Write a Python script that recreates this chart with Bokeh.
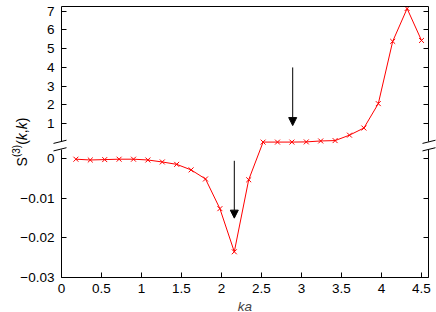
import math
from bokeh.plotting import figure
from bokeh.models import (LinearAxis, FixedTicker, Range1d, Arrow, NormalHead, ColumnDataSource)
from bokeh.core.properties import value
from bokeh.embed import file_html
from bokeh.resources import INLINE

# ---------------- data ----------------
ka = [0.18, 0.36, 0.54, 0.72, 0.90, 1.08, 1.26, 1.44, 1.62, 1.80, 1.98, 2.16, 2.34,
      2.52, 2.70, 2.88, 3.06, 3.24, 3.42, 3.60, 3.78, 3.96, 4.14, 4.32, 4.50]
s3 = [-0.0001, -0.0003, -0.0002, -0.0001, -0.0001, -0.0003, -0.0008, -0.0014, -0.0028,
      -0.0051, -0.0126, -0.0235, -0.0053,
      0.02, 0.02, 0.02, 0.03, 0.08, 0.10, 0.39, 0.77, 2.07, 5.39, 7.14, 5.44]

x_ticks = [0, 0.5, 1, 1.5, 2, 2.5, 3, 3.5, 4, 4.5]
x_tick_labels = ["0", "0.5", "1", "1.5", "2", "2.5", "3", "3.5", "4", "4.5"]
y_ticks_low = [-0.03, -0.02, -0.01, 0.0]
y_tick_labels_low = ["\u22120.03", "\u22120.02", "\u22120.01", "0"]
y_ticks_up = [1, 2, 3, 4, 5, 6, 7]
y_tick_labels_up = ["1", "2", "3", "4", "5", "6", "7"]

arrow_ka = [2.16, 2.89]
arrow_from = [-0.0005, 4.0]
arrow_to = [-0.015, 0.9]

# ---------------- broken y axis mapping ----------------
SPLIT = 0.005        # values above this belong to the upper segment
LOW_SCALE = 100.0    # lower segment: 0.01 -> 1 plot unit
UP_OFF = 0.413       # upper segment offset
UP_SCALE = 0.474     # upper segment: 1 -> 0.474 plot unit
Y_LOW_MIN = -0.03
Y_UP_MAX = 7.25
BREAK_LOW = 0.0024   # lower break mark (lower-segment value)
BREAK_UP = 0.035     # upper break mark (upper-segment value)


def ymap_low(v):
    return v * LOW_SCALE


def ymap_up(v):
    return UP_OFF + v * UP_SCALE


def ymap(v):
    return ymap_low(v) if v < SPLIT else ymap_up(v)


X_MAX = 4.5875
y0 = ymap_low(Y_LOW_MIN)
y1 = ymap_up(Y_UP_MAX)
yb_low = ymap_low(BREAK_LOW)
yb_up = ymap_up(BREAK_UP)

# canvas and plot-box geometry (pixels)
W, H = 436, 312
FL, FR, FT, FB = 61, 428, 6, 277
px_x = X_MAX / (FR - FL)
px_y = (y1 - y0) / (FB - FT)

p = figure(width=W, height=H, output_backend="svg", toolbar_location=None,
           x_range=Range1d(-FL * px_x, X_MAX + (W - FR) * px_x),
           y_range=Range1d(y0 - (H - FB) * px_y, y1 + FT * px_y),
           x_axis_type=None, y_axis_type=None, min_border=0,
           outline_line_color=None, background_fill_color="white", border_fill_color="white")

FONT = "Liberation Sans"
FS = "13.5px"


def make_axis(loc, bounds, ticks, labels=None, tick_in=5):
    ax = LinearAxis(fixed_location=loc, bounds=bounds, ticker=FixedTicker(ticks=ticks))
    ax.major_tick_in = tick_in
    ax.major_tick_out = 0
    ax.minor_tick_in = 0
    ax.minor_tick_out = 0
    ax.axis_line_color = "black"
    ax.axis_line_width = 1
    ax.major_tick_line_color = "black"
    ax.major_label_text_font = FONT
    ax.major_label_text_font_size = FS
    if labels is None:
        ax.major_label_text_color = None
    else:
        ax.major_label_text_color = "black"
        ax.major_label_overrides = {float(t): l for t, l in zip(ticks, labels)}
    return ax


low_pos = [round(ymap_low(v), 4) for v in y_ticks_low]
up_pos = [round(ymap_up(v), 4) for v in y_ticks_up]

# left axis (two pieces, with a gap at the break)
for pos, labs, bnd in [(low_pos, y_tick_labels_low, (y0, yb_low)), (up_pos, y_tick_labels_up, (yb_up, y1))]:
    ax = make_axis(0.0, bnd, pos, labs)
    ax.major_label_standoff = 7
    p.add_layout(ax, "left")
    axr = make_axis(X_MAX, bnd, pos, None)
    p.add_layout(axr, "right")

bottom = make_axis(y0, (0.0, X_MAX), [float(t) for t in x_ticks], x_tick_labels)
bottom.major_label_standoff = 6
bottom.axis_label = "ka"
bottom.axis_label_standoff = 3
bottom.axis_label_text_font = FONT
bottom.axis_label_text_font_size = FS
bottom.axis_label_text_font_style = "italic"
p.add_layout(bottom, "below")

top = make_axis(y1, (0.0, X_MAX), [], None, tick_in=0)
p.add_layout(top, "above")

# ---------------- data marks ----------------
ys = [ymap(v) for v in s3]
src = ColumnDataSource(dict(x=ka, y=ys))
p.line("x", "y", source=src, line_color="#ff0000", line_width=1)
p.scatter("x", "y", source=src, marker="x", size=7, line_color="#ff0000", line_width=1)

# arrows
asrc = ColumnDataSource(dict(
    xs=arrow_ka, xe=arrow_ka,
    ys=[ymap_low(arrow_from[0]), ymap_up(arrow_from[1])],
    ye=[ymap_low(arrow_to[0]), ymap_up(arrow_to[1])],
))
p.add_layout(Arrow(source=asrc, x_start="xs", y_start="ys", x_end="xe", y_end="ye",
                   line_color="black", line_width=1,
                   end=NormalHead(size=8, fill_color="black", line_color="black", line_width=1)))

# ---------------- axis break marks ----------------
bx0, by0, bx1, by1 = [], [], [], []
for xa, l_off, r_off in [(0.0, -8, 5), (X_MAX, -6, 7)]:
    for yb in (yb_low, yb_up):
        bx0.append(xa + l_off * px_x)
        bx1.append(xa + r_off * px_x)
        by0.append(yb - 1.6 * px_y)
        by1.append(yb + 1.6 * px_y)
p.segment(x0=bx0, y0=by0, x1=bx1, y1=by1, line_color="black", line_width=1)

# ---------------- y axis label S^(3)(k,k) ----------------
pieces = [("S", 14, "normal", 0), ("(3)", 10, "normal", 5), ("(", 14, "normal", 0),
          ("k", 14, "italic", 0), (",", 14, "normal", 0), ("k", 14, "italic", 0),
          (")", 14, "normal", 0)]
adv = {"S": 0.667, "(3)": 1.222, "(": 0.333, "k": 0.5, ",": 0.278, ")": 0.333}
total = sum(adv[t] * fs for t, fs, _, _ in pieces)
base_x = 21          # baseline pixel column of the rotated label
yc = (y0 + y1) / 2
off = -total / 2
for t, fs, st, lift in pieces:
    p.text(x=[-FL * px_x + (base_x - lift) * px_x], y=[yc + off * px_y], text=[t],
           angle=math.pi / 2, text_font=value(FONT), text_font_size=value(f"{fs}px"),
           text_font_style=value(st), text_align=value("left"),
           text_baseline=value("alphabetic"), text_color="black")
    off += adv[t] * fs

open("out.html", "w").write(file_html(p, INLINE))
